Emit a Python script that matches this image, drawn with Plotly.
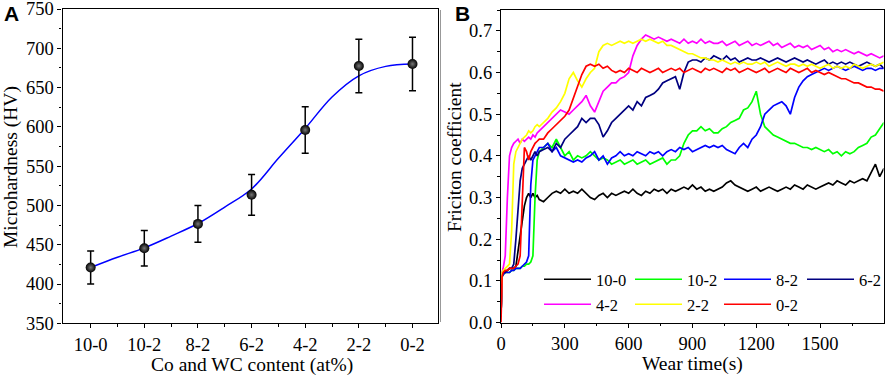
import plotly.graph_objects as go

# ---------------- Panel A data ----------------
categories = ["10-0", "10-2", "8-2", "6-2", "4-2", "2-2", "0-2"]
hardness = [421, 445.5, 476.5, 513.5, 596, 677.5, 680]
hardness_err = [21, 22.5, 23.5, 26, 29.5, 34, 34]
# fitted curve at category positions and midpoints
fit_pos = [0, 0.5, 1, 1.5, 2, 2.5, 3, 3.5, 4, 4.5, 5, 5.5, 6]
fit_val = [421, 434, 446, 461, 477, 498, 521, 560, 598, 638, 665, 677, 680]

# ---------------- Panel B data ----------------
wear_time = ([0, 5, 10, 20, 30, 40, 50, 60, 70, 80, 90, 100, 110, 120, 130, 140, 150, 160, 170, 180, 200]
             + list(range(220, 1801, 20)))

f_10_0 = [0.02, 0.11, 0.12, 0.12, 0.125, 0.13, 0.13, 0.13, 0.135, 0.17, 0.21, 0.25, 0.28, 0.30, 0.31, 0.30, 0.31, 0.30, 0.305, 0.295, 0.29,
          0.30, 0.31, 0.315, 0.31, 0.32, 0.31, 0.315, 0.31, 0.32, 0.31,
          0.30, 0.295, 0.305, 0.31, 0.30, 0.31, 0.305, 0.31, 0.315, 0.31,
          0.32, 0.31, 0.305, 0.315, 0.31, 0.32, 0.315, 0.32, 0.31, 0.32,
          0.315, 0.32, 0.325, 0.32, 0.33, 0.32, 0.325, 0.315, 0.32, 0.315,
          0.32, 0.325, 0.335, 0.34, 0.33, 0.325, 0.32, 0.315, 0.32, 0.325,
          0.315, 0.32, 0.325, 0.32, 0.315, 0.32, 0.325, 0.32, 0.33, 0.325,
          0.32, 0.33, 0.325, 0.32, 0.325, 0.33, 0.335, 0.33, 0.34, 0.335,
          0.33, 0.34, 0.335, 0.34, 0.345, 0.34, 0.36, 0.38, 0.35, 0.37]

f_10_2 = [0.02, 0.11, 0.115, 0.12, 0.12, 0.12, 0.125, 0.125, 0.13, 0.13, 0.13, 0.135, 0.135, 0.14, 0.14, 0.145, 0.16, 0.30, 0.39, 0.41, 0.42,
          0.43, 0.42, 0.44, 0.42, 0.40, 0.41, 0.39, 0.40, 0.395, 0.40,
          0.41, 0.40, 0.39, 0.395, 0.39, 0.38, 0.385, 0.39, 0.38, 0.385,
          0.39, 0.38, 0.385, 0.39, 0.38, 0.385, 0.39, 0.395, 0.38, 0.39,
          0.39, 0.40, 0.43, 0.45, 0.46, 0.46, 0.47, 0.46, 0.465, 0.455,
          0.455, 0.465, 0.47, 0.48, 0.485, 0.49, 0.51, 0.515, 0.53, 0.555,
          0.50, 0.47, 0.46, 0.45, 0.445, 0.44, 0.435, 0.43, 0.43, 0.425,
          0.42, 0.42, 0.415, 0.42, 0.415, 0.41, 0.415, 0.405, 0.41, 0.40,
          0.41, 0.405, 0.41, 0.42, 0.425, 0.43, 0.445, 0.45, 0.465, 0.48]

f_8_2 = [0.02, 0.11, 0.115, 0.12, 0.12, 0.12, 0.125, 0.125, 0.13, 0.13, 0.13, 0.135, 0.14, 0.145, 0.16, 0.33, 0.39, 0.40, 0.41, 0.42, 0.42,
         0.43, 0.41, 0.42, 0.40, 0.395, 0.39, 0.385, 0.39, 0.385, 0.395,
         0.40, 0.41, 0.39, 0.40, 0.38, 0.395, 0.40, 0.41, 0.40, 0.405,
         0.40, 0.41, 0.405, 0.40, 0.41, 0.405, 0.41, 0.40, 0.41, 0.415,
         0.41, 0.42, 0.415, 0.42, 0.41, 0.415, 0.42, 0.425, 0.42, 0.425,
         0.42, 0.425, 0.415, 0.41, 0.405, 0.42, 0.43, 0.42, 0.44, 0.45,
         0.47, 0.50, 0.51, 0.52, 0.525, 0.53, 0.52, 0.50, 0.54, 0.565,
         0.58, 0.59, 0.595, 0.60, 0.605, 0.61, 0.605, 0.61, 0.615, 0.61,
         0.605, 0.61, 0.615, 0.61, 0.605, 0.61, 0.61, 0.605, 0.61, 0.61]

f_6_2 = [0.02, 0.11, 0.12, 0.12, 0.125, 0.13, 0.13, 0.14, 0.20, 0.27, 0.34, 0.37, 0.38, 0.39, 0.40, 0.39, 0.40, 0.41, 0.40, 0.41, 0.415,
         0.42, 0.41, 0.43, 0.42, 0.44, 0.45, 0.46, 0.47, 0.49, 0.48,
         0.49, 0.49, 0.475, 0.445, 0.46, 0.48, 0.49, 0.50, 0.51, 0.52,
         0.51, 0.53, 0.52, 0.54, 0.545, 0.55, 0.56, 0.575, 0.58, 0.585,
         0.59, 0.56, 0.60, 0.625, 0.63, 0.63, 0.625, 0.635, 0.63, 0.64,
         0.635, 0.63, 0.64, 0.63, 0.635, 0.625, 0.63, 0.635, 0.63, 0.63,
         0.635, 0.63, 0.625, 0.63, 0.635, 0.63, 0.625, 0.63, 0.635, 0.63,
         0.625, 0.63, 0.625, 0.62, 0.625, 0.63, 0.62, 0.625, 0.62, 0.625,
         0.62, 0.625, 0.62, 0.615, 0.62, 0.625, 0.62, 0.615, 0.62, 0.61]

f_4_2 = [0.02, 0.12, 0.13, 0.16, 0.30, 0.40, 0.42, 0.43, 0.435, 0.44, 0.43, 0.44, 0.435, 0.44, 0.445, 0.44, 0.45, 0.445, 0.455, 0.46, 0.47,
         0.48, 0.49, 0.50, 0.51, 0.505, 0.50, 0.51, 0.52, 0.53, 0.545,
         0.52, 0.505, 0.53, 0.555, 0.565, 0.575, 0.575, 0.585, 0.59, 0.60,
         0.64, 0.665, 0.68, 0.69, 0.685, 0.68, 0.685, 0.68, 0.675, 0.68,
         0.675, 0.67, 0.68, 0.67, 0.675, 0.67, 0.68, 0.67, 0.675, 0.67,
         0.67, 0.675, 0.665, 0.67, 0.675, 0.665, 0.67, 0.675, 0.665, 0.67,
         0.665, 0.67, 0.675, 0.665, 0.67, 0.66, 0.665, 0.67, 0.66, 0.665,
         0.66, 0.665, 0.655, 0.66, 0.665, 0.655, 0.66, 0.65, 0.655, 0.65,
         0.655, 0.65, 0.645, 0.65, 0.645, 0.64, 0.645, 0.64, 0.635, 0.64]

f_2_2 = [0.02, 0.12, 0.125, 0.13, 0.135, 0.14, 0.22, 0.38, 0.41, 0.42, 0.43, 0.44, 0.445, 0.45, 0.46, 0.455, 0.46, 0.47, 0.475, 0.47, 0.48,
         0.49, 0.505, 0.515, 0.53, 0.55, 0.585, 0.60, 0.58, 0.565, 0.585,
         0.60, 0.61, 0.65, 0.665, 0.67, 0.665, 0.67, 0.675, 0.67, 0.675,
         0.67, 0.675, 0.68, 0.675, 0.68, 0.675, 0.67, 0.675, 0.665, 0.665,
         0.66, 0.655, 0.65, 0.645, 0.645, 0.64, 0.635, 0.635, 0.63, 0.63,
         0.625, 0.63, 0.625, 0.62, 0.625, 0.62, 0.625, 0.62, 0.62, 0.625,
         0.62, 0.625, 0.615, 0.62, 0.625, 0.62, 0.615, 0.62, 0.62, 0.615,
         0.62, 0.615, 0.62, 0.615, 0.61, 0.615, 0.62, 0.61, 0.615, 0.61,
         0.615, 0.61, 0.62, 0.615, 0.61, 0.615, 0.62, 0.615, 0.62, 0.625]

f_0_2 = [0.0, 0.11, 0.12, 0.125, 0.125, 0.13, 0.13, 0.13, 0.135, 0.14, 0.16, 0.30, 0.42, 0.41, 0.39, 0.41, 0.42, 0.43, 0.435, 0.44, 0.44,
         0.455, 0.465, 0.475, 0.485, 0.495, 0.51, 0.54, 0.565, 0.595, 0.615,
         0.62, 0.615, 0.62, 0.61, 0.615, 0.605, 0.60, 0.605, 0.60, 0.61,
         0.605, 0.60, 0.61, 0.605, 0.60, 0.605, 0.61, 0.60, 0.605, 0.61,
         0.605, 0.61, 0.60, 0.605, 0.61, 0.605, 0.60, 0.61, 0.605, 0.61,
         0.605, 0.60, 0.61, 0.605, 0.61, 0.60, 0.605, 0.61, 0.605, 0.60,
         0.605, 0.61, 0.60, 0.605, 0.61, 0.605, 0.60, 0.61, 0.605, 0.60,
         0.605, 0.61, 0.60, 0.605, 0.60, 0.595, 0.60, 0.595, 0.59, 0.585,
         0.585, 0.58, 0.575, 0.575, 0.57, 0.565, 0.565, 0.56, 0.56, 0.555]

series_names = ["10-0", "10-2", "8-2", "6-2", "4-2", "2-2", "0-2"]
series_vals = [f_10_0, f_10_2, f_8_2, f_6_2, f_4_2, f_2_2, f_0_2]
series_colors = ["#000000", "#00ff00", "#0000ff", "#000080", "#ff00ff", "#ffff00", "#ff0000"]
# legend layout (style): which legend row and entry width
legend_ids = ["legend", "legend", "legend", "legend", "legend2", "legend2", "legend2"]
legend_entry_w = [29, 27, 21, 21, 29, 27, 21]

SERIF = "Liberation Serif"
TICKFONT = dict(family=SERIF, size=18.5, color="black")
TITLEFONT = dict(family=SERIF, size=19.5, color="black")
LEGFONT = dict(family=SERIF, size=16.5, color="black")

W, H = 886, 375

fig = go.Figure()

# Panel A
fig.add_trace(go.Scatter(x=fit_pos, y=fit_val, mode="lines", line=dict(color="#0000ff", width=1.5, shape="spline"),
                         showlegend=False, xaxis="x", yaxis="y", hoverinfo="skip"))
fig.add_trace(go.Scatter(x=list(range(len(categories))), y=hardness, mode="markers",
                         error_y=dict(type="data", array=hardness_err, color="black", thickness=1.5, width=3.5),
                         marker=dict(color="black", size=10, gradient=dict(type="radial", color="#777777"),
                                     line=dict(width=0)),
                         showlegend=False, xaxis="x", yaxis="y"))

# Panel B
for nm, vals, col, lg, lw in zip(series_names, series_vals, series_colors, legend_ids, legend_entry_w):
    fig.add_trace(go.Scatter(x=wear_time, y=vals, mode="lines", name=nm,
                             line=dict(color=col, width=1.7),
                             xaxis="x2", yaxis="y2", legend=lg, legendwidth=lw))

axis_common = dict(showline=True, linecolor="black", linewidth=1.3, mirror=True, ticks="outside",
                   ticklen=4, tickwidth=1.2, tickcolor="black", showgrid=False, zeroline=False,
                   tickfont=TICKFONT, automargin=False, ticklabeloverflow="allow")
minor_common = dict(ticks="outside", ticklen=2.5, tickcolor="black", tickwidth=1)

leg_common = dict(orientation="h", xanchor="left", yanchor="top", font=LEGFONT, itemwidth=47,
                  bgcolor="rgba(0,0,0,0)", borderwidth=0, tracegroupgap=0)


def px_x(v):
    return v / W


def px_y(v):
    return 1 - v / H


title_annotations = [
    dict(text="Co and WC content (at%)", x=px_x(252.5), y=px_y(365), textangle=0),
    dict(text="Wear time(s)", x=px_x(692.5), y=px_y(364), textangle=0),
    dict(text="Microhardness (HV)", x=px_x(11), y=px_y(167), textangle=-90),
    dict(text="Friciton coefficient", x=px_x(454.5), y=px_y(157.5), textangle=-90),
]
annotations = []
for a in title_annotations:
    annotations.append(dict(xref="paper", yref="paper", xanchor="center", yanchor="middle",
                            showarrow=False, font=TITLEFONT, **a))
annotations += [
    dict(text="<b>A</b>", x=px_x(2), y=px_y(0), xref="paper", yref="paper", xanchor="left", yanchor="top",
         showarrow=False, font=dict(family="Liberation Sans", size=21, color="black")),
    dict(text="<b>B</b>", x=px_x(453), y=px_y(0), xref="paper", yref="paper", xanchor="left", yanchor="top",
         showarrow=False, font=dict(family="Liberation Sans", size=21, color="black")),
]

fig.update_layout(
    template="none",
    width=W, height=H,
    margin=dict(l=0, r=0, t=0, b=0),
    plot_bgcolor="white", paper_bgcolor="white",
    xaxis=dict(domain=[px_x(62.5), px_x(437.7)], range=[-0.525, 6.47],
               tickmode="array", tickvals=list(range(len(categories))), ticktext=categories,
               minor=dict(tickvals=[i + 0.5 for i in range(len(categories) - 1)], **minor_common),
               anchor="y", **axis_common),
    yaxis=dict(domain=[px_y(323.3), px_y(9)], range=[350, 750], dtick=50,
               minor=dict(dtick=25, **minor_common),
               anchor="x", **axis_common),
    xaxis2=dict(domain=[px_x(501), px_x(883.5)], range=[0, 1798], dtick=300,
                minor=dict(dtick=150, **minor_common),
                anchor="y2", **axis_common),
    yaxis2=dict(domain=[px_y(322.5), px_y(10)], range=[0, 0.75], dtick=0.1, tickformat=".1f",
                minor=dict(dtick=0.05, **minor_common),
                anchor="x2", **axis_common),
    legend=dict(x=px_x(539), y=px_y(262), **leg_common),
    legend2=dict(x=px_x(539), y=px_y(287), **leg_common),
    annotations=annotations,
    shapes=[dict(type="line", xref="paper", yref="paper", x0=px_x(440.5), x1=px_x(440.5),
                 y0=px_y(322), y1=px_y(10), line=dict(color="#999999", width=1))],
)

fig.write_html("out.html", config={"displayModeBar": False},
               post_script="document.body.style.margin='0';document.body.style.padding='0';")
